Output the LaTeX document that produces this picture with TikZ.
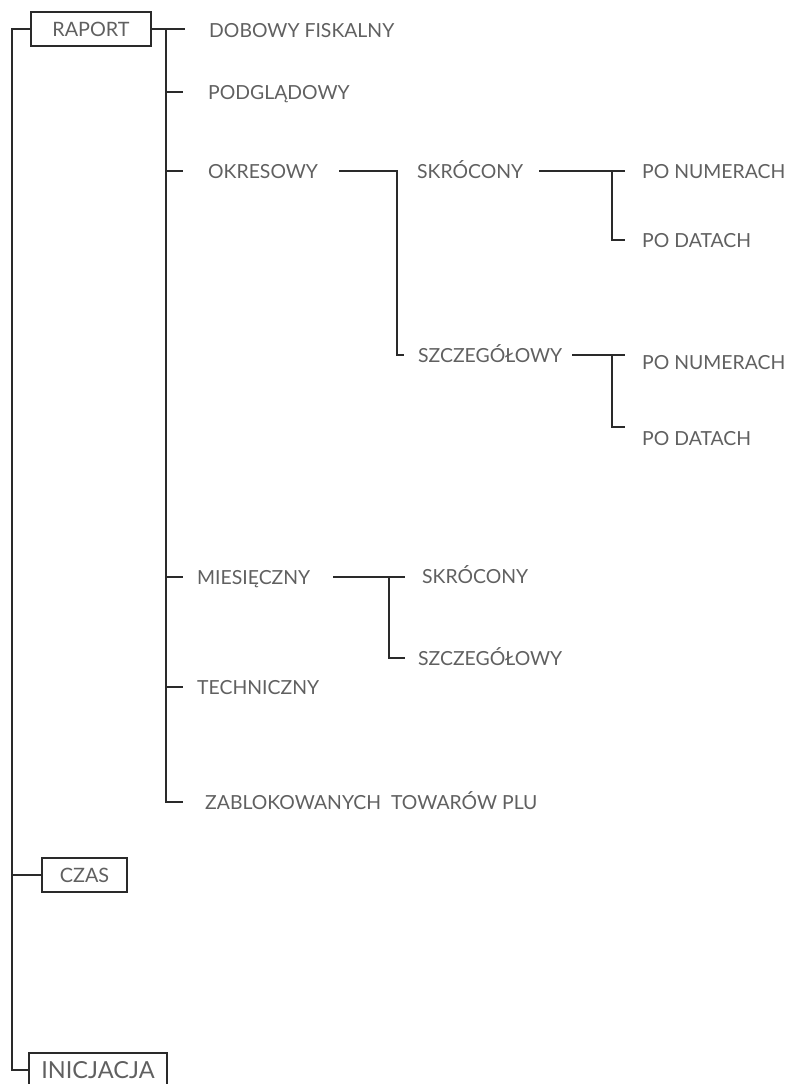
\documentclass[tikz,border=0pt]{standalone}
\usepackage{fontspec}
\setmainfont{Lato}
\usetikzlibrary{calc}
\definecolor{txtgray}{HTML}{606060}
\definecolor{linegray}{HTML}{2A2A2A}
\tikzset{
  box/.style={draw=linegray, line width=1.1pt, minimum height=34pt, inner sep=0pt, text=txtgray, font=\fontsize{19.8}{19.8}\selectfont},
  item/.style={anchor=west, inner sep=0pt, text height=14pt, text depth=0pt, text=txtgray, font=\fontsize{19.4}{19.4}\selectfont},
  link/.style={draw=linegray, line width=1.1pt},
}
\begin{document}
\begin{tikzpicture}[x=1pt,y=-1pt]
  \useasboundingbox (0,0) rectangle (793,1084);

  % top level
  \node[box, minimum width=120pt] (raport) at (91,29) {RAPORT};
  \node[box, minimum width=85pt] (czas) at (84.5,875) {CZAS};
  \node[box, minimum width=138pt, font=\fontsize{23.5}{23.5}\selectfont] (inicjacja) at (98,1070) {INICJACJA};
  \coordinate (trunk) at (12,1070);

  \draw[link] (raport.west) -| (trunk) -- (inicjacja.west);
  \draw[link] (czas.west) -- (czas.west -| trunk);

  % raport
  \node[item] (dobowy) at (209,30) {DOBOWY FISKALNY};
  \node[item] (podglad) at (208,92) {PODGLĄDOWY};
  \node[item] (okresowy) at (208,171) {OKRESOWY};
  \node[item] (miesiecz) at (197,577) {MIESIĘCZNY};
  \node[item] (techn) at (197,687) {TECHNICZNY};
  \node[item] (zablok) at (205,802) {ZABLOKOWANYCH\ \ TOWARÓW PLU};
  \coordinate (sub) at (166,802);

  \draw[link] (raport.east) -- ++(33,0);
  \draw[link] (raport.east -| sub) -- (sub) -- ++(17,0);
  \foreach \n in {podglad,okresowy,miesiecz,techn}{
    \draw[link] (\n.west -| sub) -- ++(17,0);
  }

  % okresowy
  \node[item] (okskr) at (417,171) {SKRÓCONY};
  \node[item] (okszcz) at (418,355) {SZCZEGÓŁOWY};
  \coordinate (okj) at (397,171);
  \draw[link] ([xshift=21pt]okresowy.east) -- (okj) -- (okszcz.west -| okj) -- ++(7,0);

  \node[item] (skrnum) at (642,171) {PO NUMERACH};
  \node[item] (skrdat) at (642,240) {PO DATACH};
  \node[item] (szcznum) at (642,362) {PO NUMERACH};
  \node[item] (szczdat) at (642,438) {PO DATACH};
  \coordinate (skrj) at (612,171);
  \coordinate (szczj) at (612,355);
  \draw[link] ([xshift=16pt]okskr.east) -- ([xshift=-17pt]skrnum.west);
  \draw[link] (skrj) -- (skrj |- skrdat.west) -- ++(13,0);
  \draw[link] ([xshift=10pt]okszcz.east) -- (625,355);
  \draw[link] (szczj) -- (612,427) -- ++(13,0);

  % miesieczny
  \node[item] (mskr) at (422,576) {SKRÓCONY};
  \node[item] (mszcz) at (418,658) {SZCZEGÓŁOWY};
  \coordinate (mj) at (389,577);
  \draw[link] ([xshift=23pt]miesiecz.east) -- (405,577);
  \draw[link] (mj) -- (mj |- mszcz.west) -- ++(16,0);
\end{tikzpicture}
\end{document}
